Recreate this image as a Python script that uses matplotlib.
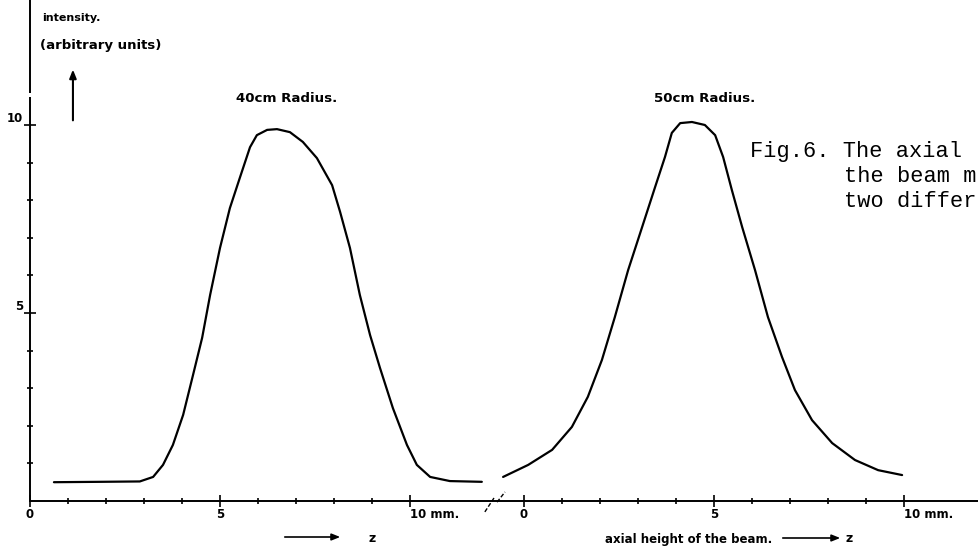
import matplotlib
matplotlib.use("Agg")
import matplotlib.pyplot as plt

# axial intensity profiles (z in mm, intensity in arbitrary units)
z_40cm = [0.63, 1.84, 2.89, 3.24, 3.50, 3.76, 4.03, 4.29, 4.53, 4.74, 5.0, 5.26, 5.53,
          5.79, 5.97, 6.24, 6.5, 6.84, 7.18, 7.55, 7.95, 8.16, 8.42, 8.68, 8.95, 9.21,
          9.55, 9.92, 10.18, 10.53, 11.05, 11.89]
i_40cm = [0.50, 0.51, 0.52, 0.64, 0.96, 1.49, 2.29, 3.35, 4.34, 5.48, 6.73, 7.79, 8.62,
          9.41, 9.73, 9.87, 9.89, 9.81, 9.55, 9.12, 8.40, 7.69, 6.73, 5.48, 4.41, 3.54,
          2.47, 1.49, 0.96, 0.64, 0.53, 0.51]

z_50cm = [-0.55, 0.11, 0.74, 1.26, 1.68, 2.05, 2.39, 2.74, 3.11, 3.45, 3.71, 3.89, 4.11,
          4.42, 4.76, 5.03, 5.24, 5.47, 5.74, 6.08, 6.42, 6.79, 7.13, 7.58, 8.11, 8.71,
          9.32, 9.95]
i_50cm = [0.64, 0.96, 1.36, 1.97, 2.77, 3.75, 4.89, 6.14, 7.29, 8.35, 9.15, 9.79, 10.05,
          10.08, 10.0, 9.73, 9.15, 8.27, 7.29, 6.14, 4.89, 3.83, 2.95, 2.15, 1.54, 1.09,
          0.82, 0.69]

# the right-hand panel is drawn on the same axis, shifted along z
panel_offset = 13.0
x_major = [0, 5, 10]
x_major_labels = ["0", "5", "10 mm."]
x_minor = [1, 2, 3, 4, 6, 7, 8, 9]
y_major = [5, 10]
y_minor = [1, 2, 3, 4, 6, 7, 8, 9]

W, H = 979, 548
INK = "black"
SANS = dict(family="DejaVu Sans", weight="bold", color=INK)
MONO = dict(family="Liberation Mono", color=INK, fontsize=15.8)


def fpos(x, y):
    # pixel position (from top-left) -> figure fraction
    return x / W, 1 - y / H


fig = plt.figure(figsize=(W / 100, H / 100), dpi=100)
ax = fig.add_axes([30 / W, 47 / H, (W - 30) / W, 501 / H])
ax.set_xlim(0, (W - 30) / 38.0)
ax.set_ylim(0, 501 / 37.6)

line_kw = dict(color=INK, lw=1.6, solid_joinstyle="round", solid_capstyle="round")
ax.plot(z_40cm, i_40cm, **line_kw)
ax.plot([z + panel_offset for z in z_50cm], i_50cm, **line_kw)

for side in ["top", "right"]:
    ax.spines[side].set_visible(False)
for side in ["left", "bottom"]:
    ax.spines[side].set_linewidth(1.4)

ax.set_xticks(x_major + [x + panel_offset for x in x_major])
ax.set_xticklabels(x_major_labels + x_major_labels)
ax.set_xticks(x_minor + [x + panel_offset for x in x_minor], minor=True)
ax.set_yticks(y_major)
ax.set_yticklabels([str(v) for v in y_major])
ax.set_yticks(y_minor, minor=True)
ax.tick_params(which="major", direction="inout", length=8, width=1.2, pad=1,
               labelsize=8.5)
ax.tick_params(which="minor", direction="inout", length=5, width=1.2)
for lbl in ax.get_xticklabels() + ax.get_yticklabels():
    lbl.set_fontweight("bold")
    if "mm" in lbl.get_text():
        lbl.set_horizontalalignment("left")
for lbl in ax.get_yticklabels():
    lbl.set_verticalalignment("bottom")

# small gap in the intensity axis near the top
ax.plot([0, 0], [10.74, 10.85], color="white", lw=3, solid_capstyle="butt",
        clip_on=False, zorder=5)

# axis break marks between the two panels
for x0, x1, y0, y1 in [(11.97, 12.21, -0.29, 0.08), (12.29, 12.5, -0.03, 0.24)]:
    ax.plot([x0, x1], [y0, y1], color=INK, lw=1.0, ls=(0, (3, 1.5)), clip_on=False)

# y-axis label and arrow
fig.text(*fpos(42, 18), "intensity.", ha="left", va="center", fontsize=8, **SANS)
fig.text(*fpos(40, 45), "(arbitrary units)", ha="left", va="center", fontsize=9.5, **SANS)
ax.annotate("", xy=(1.13, 11.55), xytext=(1.13, 10.05),
            arrowprops=dict(arrowstyle="-|>,head_length=0.5,head_width=0.2",
                            color=INK, lw=1.5))

# curve titles
fig.text(*fpos(287, 99), "40cm Radius.", ha="center", va="center", fontsize=9.6, **SANS)
fig.text(*fpos(705, 98), "50cm Radius.", ha="center", va="center", fontsize=9.6, **SANS)

# x-axis captions
arrow_kw = dict(arrowstyle="-|>,head_length=0.5,head_width=0.2", color=INK, lw=1.2)
ax.annotate("", xy=fpos(343, 537), xytext=fpos(282, 537), xycoords="figure fraction",
            textcoords="figure fraction", arrowprops=arrow_kw)
fig.text(*fpos(372, 538), "z", ha="center", va="center", fontsize=9, **SANS)
fig.text(*fpos(605, 539), "axial height of the beam.", ha="left", va="center",
         fontsize=8.5, **SANS)
ax.annotate("", xy=fpos(843, 538), xytext=fpos(780, 538), xycoords="figure fraction",
            textcoords="figure fraction", arrowprops=arrow_kw)
fig.text(*fpos(849, 539), "z", ha="center", va="center", fontsize=9, **SANS)

# typewritten caption (runs off the page edge in the scan)
fig.text(*fpos(750, 157), "Fig.6. The axial", ha="left", va="baseline", **MONO)
fig.text(*fpos(844, 182), "the beam m", ha="left", va="baseline", **MONO)
fig.text(*fpos(844, 207), "two differ", ha="left", va="baseline", **MONO)

fig.savefig("out.png", dpi=100, facecolor="white")
